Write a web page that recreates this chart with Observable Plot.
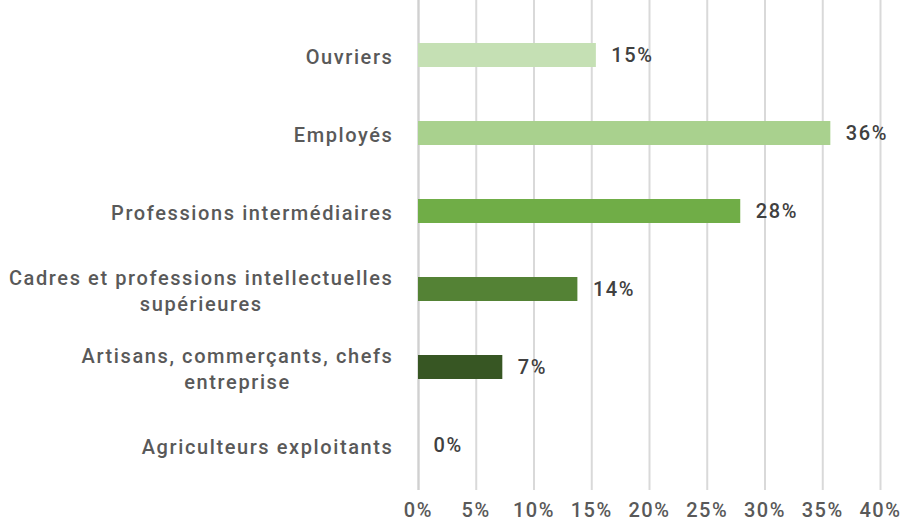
<!DOCTYPE html>
<html><head><meta charset="utf-8">
<script src="https://cdn.jsdelivr.net/npm/d3@7"></script>
<script src="https://cdn.jsdelivr.net/npm/@observablehq/plot@0.6"></script>
<style>
body{margin:0;background:#fff;}
#chart svg text{letter-spacing:1.6px;}
</style>
</head><body><div id="chart"></div>
<script>
const categories = ["Ouvriers","Employés","Professions intermédiaires","Cadres et professions intellectuelles\nsupérieures","Artisans, commerçants, chefs\nentreprise","Agriculteurs exploitants"];
const values = [15.4, 35.7, 27.9, 13.8, 7.3, 0];
const colors = ["#c5e0b4","#a9d18e","#70ad47","#548235","#375623","#263d18"];
const xTicks = [0,5,10,15,20,25,30,35,40];

const data = categories.map((c,i)=>({cat:c, v:values[i], color:colors[i], label: Math.round(values[i]) + "%"}));

const chart = Plot.plot({
  width: 904, height: 523,
  marginLeft: 418, marginRight: 24, marginTop: 0, marginBottom: 33,
  style: {fontSize: "20px", color: "#595959", fontFamily: "Roboto, sans-serif", fontWeight: "500"},
  x: {domain: [0,40], ticks: xTicks, tickFormat: d => d + "%", grid: false, label: null},
  y: {domain: categories, range: [15,485], paddingInner: 0.69, paddingOuter: 0.345, label: null},
  marks: [
    Plot.gridX(xTicks, {stroke: "#d9d9d9", strokeOpacity: 1, strokeWidth: 2}),
    Plot.ruleX([0], {stroke: "#d0d0d0", strokeWidth: 2}),
    Plot.barX(data, {y: "cat", x: "v", fill: "color"}),
    Plot.text(data, {y: "cat", x: "v", text: "label", textAnchor: "start", dx: 15, fill: "#404040", fontSize: 20, fontWeight: 500}),
    Plot.axisX({ticks: xTicks, tickFormat: d => d + "%", tickSize: 0, tickPadding: 12, fill: "#595959", fontSize: 20}),
    Plot.axisY({tickSize: 0, tickPadding: 25, fill: "#595959", fontSize: 20, lineHeight: 1.33})
  ]
});
document.getElementById("chart").appendChild(chart);

// center-align lines of multi-line category labels within right-aligned block
chart.querySelectorAll("g[aria-label='y-axis tick label'] text").forEach(t => {
  const spans = t.querySelectorAll("tspan");
  if (spans.length > 1) {
    let maxW = 0;
    spans.forEach(s => { maxW = Math.max(maxW, s.getComputedTextLength()); });
    t.setAttribute("text-anchor", "middle");
    const x0 = +(t.getAttribute("x") || 0);
    t.setAttribute("x", x0 - maxW/2);
    spans.forEach(s => s.setAttribute("x", x0 - maxW/2));
  }
});
</script>
</body></html>
